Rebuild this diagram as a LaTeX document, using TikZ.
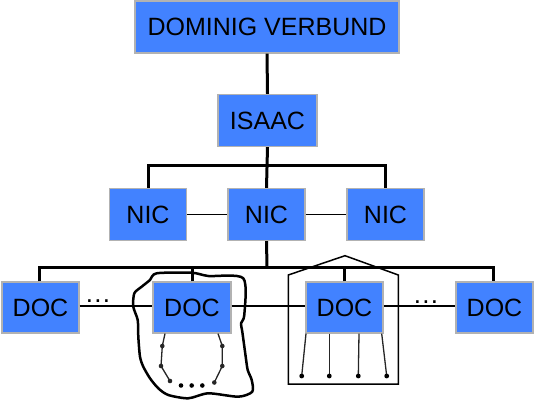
\documentclass[tikz,border=0pt]{standalone}
\usepackage{fontspec}
\setmainfont{Liberation Sans}
\usepackage{tikz}

\definecolor{boxblue}{RGB}{66,130,255}

\begin{document}
\begin{tikzpicture}[
        x=1pt, y=-1pt,
        box/.style={
            draw=gray!60,
            line width=1.2pt,
            fill=boxblue,
            inner sep=0pt,
            font=\fontsize{25}{29}\selectfont,
            minimum width=77pt,
            minimum height=52pt
        },
        tree/.style={line width=3pt},
        link/.style={line width=1.5pt},
        wire/.style={line width=1.3pt, black!85},
        fence/.style={line width=1.5pt, line join=miter},
        dots/.style={font=\fontsize{26}{29}\selectfont, inner sep=0pt, anchor=base}
    ]
        \useasboundingbox (0,0) rectangle (535,403);

        \node[box, minimum width=264pt] (dv) at (267,27) {DOMINIG VERBUND};
        \node[box, minimum width=99pt] (isaac) at (267.5,120.5) {ISAAC};
        \node[box] (nicl) at (148,214.5) {NIC};
        \node[box] (nicm) at (266.5,214.5) {NIC};
        \node[box] (nicr) at (385.5,214.5) {NIC};
        \node[box, minimum height=51pt] (doc1) at (40.5,307.5) {DOC};
        \node[box, minimum height=51pt, minimum width=78pt] (doc2) at (192,307.5) {DOC};
        \node[box, minimum height=51pt] (doc3) at (344.5,307.5) {DOC};
        \node[box, minimum height=51pt] (doc4) at (494.5,307.5) {DOC};

        % tree
        \coordinate (nbus) at (267,166);
        \coordinate (dbus) at (267,267);
        \draw[tree] (dv.south) -- (isaac.north);
        \draw[tree] (isaac.south) -- (nicm.north);
        \draw[tree] (nicl.north) |- (nbus) -| (nicr.north);
        \draw[tree] (nicm.south) -- (dbus);
        \draw[tree] ([xshift=-1.5pt]doc1.north) |- (dbus) -| ([xshift=-1.5pt]doc4.north);
        \draw[tree] (doc2.north) -- (doc2.north |- dbus);
        \draw[tree] (doc3.north) -- (doc3.north |- dbus);

        % side links
        \draw[link] (nicl) -- (nicm);
        \draw[link] (nicm) -- (nicr);
        \draw[link] ([yshift=1.5pt]doc1.east) -- ([yshift=1.5pt]doc2.west);
        \draw[link] ([yshift=1.5pt]doc2.east) -- ([yshift=1.5pt]doc3.west);
        \draw[link] ([yshift=1.5pt]doc3.east) -- ([yshift=1.5pt]doc4.west);
        \node[dots] (gapl) at (98,302) {.\kern1.2pt.\kern1.2pt.};
        \node[dots] (gapr) at (426,303) {.\kern1.2pt.\kern1.2pt.};

        % cloud round doc2
        \draw[line width=2.5pt, line join=round] plot[smooth cycle, tension=0.45] coordinates {
            (156.7,273.3) (191.7,272.7) (208.3,276) (243.3,278.3) (244.3,315)
            (241,323.3) (242.3,331.7) (245.7,356.7) (247.7,370) (251.7,380)
            (252.3,391.7) (238.3,396.7) (208.3,393.3) (188.3,398.3) (168.3,395)
            (158.3,388.3) (150,378.3) (143.3,366.7) (140,356.7) (138.3,336.7)
            (137.7,320) (133.3,306.7) (134.3,293.3) (141.7,286.7) (150,280)};

        % chain under doc2
        \coordinate (cl1) at (162.3,346);
        \coordinate (cl2) at (161,366);
        \coordinate (cl3) at (170,381);
        \coordinate (cr1) at (222.3,346);
        \coordinate (cr2) at (222.3,366);
        \coordinate (cr3) at (214.3,382.5);
        \draw[wire] ([xshift=-27pt]doc2.south) -- (cl1) -- (cl2) -- (cl3);
        \draw[wire] ([xshift=26pt]doc2.south) -- (cr1) -- (cr2) -- (cr3);
        \foreach \p in {cl1,cl2,cl3,cr1,cr2,cr3}
            \fill[black!85] (\p) circle (2.3pt);
        \foreach \x in {181,191.7,202.3}
            \fill (\x,385.5) circle (2.3pt);

        % house round doc3
        \draw[fence] (288.3,275) -- (345,255.7) -- (398.3,275) -- (398.3,384) -- (288.3,384) -- cycle;
        \foreach \i/\dx/\ex in {1/-38.5/301.7, 2/-15.2/329.3, 3/14.5/358.3, 4/37.2/386.7} {
            \coordinate (leg\i) at (\ex,376);
            \draw[wire] ([xshift=\dx pt]doc3.south) -- (leg\i);
            \fill (leg\i) circle (2.4pt);
        }
    \end{tikzpicture}
\end{document}
